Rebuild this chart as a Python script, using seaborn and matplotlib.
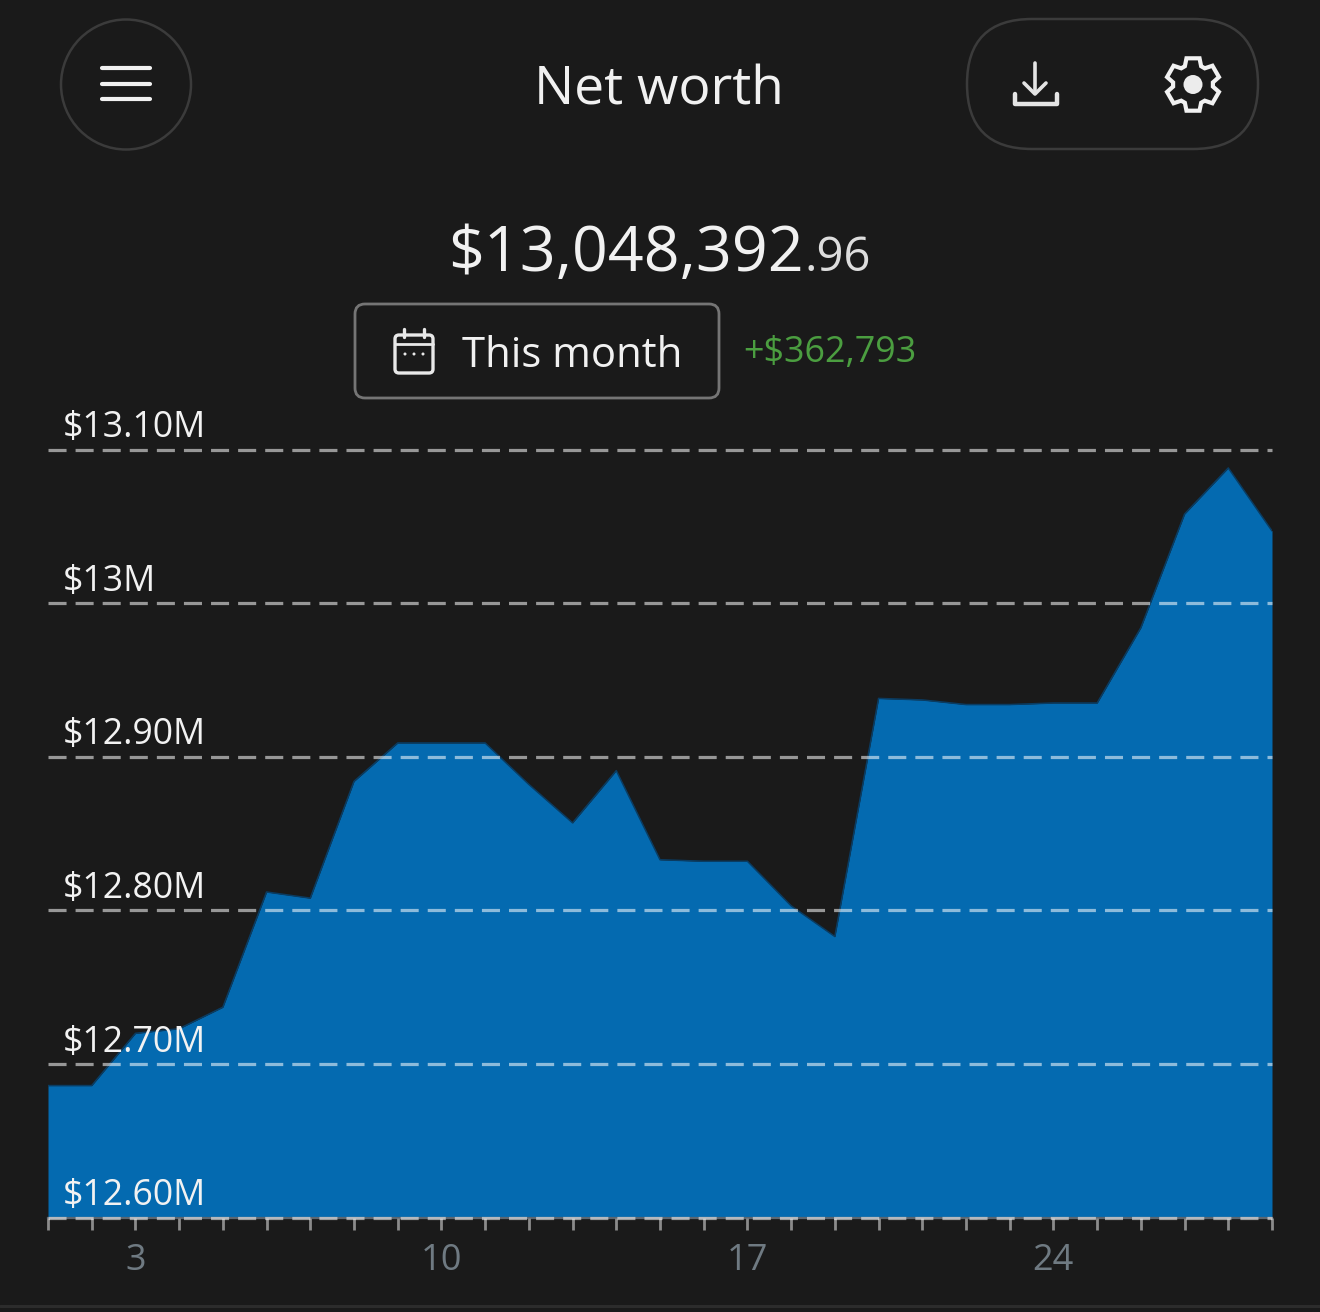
import numpy as np
import pandas as pd
import matplotlib
matplotlib.use("Agg")
import matplotlib.pyplot as plt
from matplotlib.patches import Ellipse, FancyBboxPatch, Polygon, Circle
from matplotlib.transforms import ScaledTranslation
import seaborn as sns

# Daily net worth in millions of dollars
days = list(range(1, 30))
net_worth = [12.686, 12.686, 12.720, 12.723, 12.737, 12.812, 12.808, 12.884, 12.909, 12.909,
             12.909, 12.882, 12.857, 12.891, 12.833, 12.832, 12.832, 12.803, 12.783, 12.938,
             12.937, 12.934, 12.934, 12.935, 12.935, 12.984, 13.058, 13.088, 13.047]
y_ticks = [12.6, 12.7, 12.8, 12.9, 13.0, 13.1]
y_labels = ["$12.60M", "$12.70M", "$12.80M", "$12.90M", "$13M", "$13.10M"]
x_labelled = {3: "3", 10: "10", 17: "17", 24: "24"}

title = "Net worth"
balance_whole = "$13,048,392"
balance_cents = ".96"
period = "This month"
change = "+$362,793"

BG = "#1a1a1a"
BLUE = "#046ab0"
INK = "#f1f1f1"
FONT = "Open Sans"

W, H = 1320, 1312
sns.set_theme(style="dark", rc={"axes.facecolor": BG, "figure.facecolor": BG, "font.family": FONT})
fig = plt.figure(figsize=(W / 100, H / 100), dpi=100, facecolor=BG)

# Chart area
L, R, T, B = 48, 1272, 449.5, 1217.7
ax = fig.add_axes([L / W, 1 - B / H, (R - L) / W, (B - T) / H], facecolor=BG)
frame = pd.DataFrame({"day": days, "value": net_worth})
ax.fill_between(frame["day"], frame["value"], 12.6, color=BLUE, lw=0, zorder=1)
sns.lineplot(data=frame, x="day", y="value", ax=ax, color="#0a3c62", lw=1.1, zorder=2)
ax.set(xlim=(1, 29), ylim=(12.6, 13.1), xlabel="", ylabel="")
ax.set_axisbelow(False)
for name, spine in ax.spines.items():
    spine.set_visible(name == "bottom")
ax.spines["bottom"].set_color("#5c6670")
ax.spines["bottom"].set_linewidth(1.6)

ax.set_yticks(y_ticks)
ax.set_yticklabels(y_labels)
ax.tick_params(axis="y", length=0, pad=-10.6, labelsize=25.7, labelcolor="#f2f2f2")
lift = ScaledTranslation(0, 2.4 / 72, fig.dpi_scale_trans)
for lab in ax.get_yticklabels():
    lab.set_ha("left")
    lab.set_va("bottom")
    lab.set_transform(lab.get_transform() + lift)

ax.set_xticks(days)
ax.set_xticklabels([x_labelled.get(d, "") for d in days])
ax.tick_params(axis="x", length=8.5, width=2.0, color="#8b8b8b", pad=9.5, labelsize=26,
               labelcolor="#6f7a82", bottom=True)

# Dashed reference lines sit over the area
for v in y_ticks:
    ax.axhline(v, color="white", alpha=0.55, lw=2.3, dashes=(5.65, 2.83), zorder=4, clip_on=False)
ax.grid(False)

# Interface layer in pixel units
ui = fig.add_axes([0, 0, 1, 1], facecolor="none")
ui.set_xlim(0, W)
ui.set_ylim(H, 0)
ui.axis("off")

RIM = "#3b3b3b"
ui.add_patch(Ellipse((126, 84.5), 130, 130, fill=False, ec=RIM, lw=1.8))
ui.add_patch(FancyBboxPatch((967, 19), 291, 130, boxstyle="round,pad=0,rounding_size=65",
                            fill=False, ec=RIM, lw=1.8))

for y in (68, 84, 99):
    ui.plot([102, 150], [y, y], color=INK, lw=3.0, solid_capstyle="round")

# Download icon
ui.plot([1035, 1035], [63, 93], color="#e4e4e4", lw=2.6, solid_capstyle="round")
ui.plot([1024, 1035, 1046], [83, 94, 83], color="#e4e4e4", lw=2.6,
        solid_capstyle="round", solid_joinstyle="round")
ui.plot([1014.5, 1014.5, 1056.5, 1056.5], [94, 104, 104, 94], color="#e4e4e4", lw=3.2,
        solid_capstyle="round", solid_joinstyle="round")

# Settings icon: six-tooth gear outline
gear = []
for k in range(6):
    a = np.deg2rad(k * 60 - 90)
    for da, r in ((-24, 20), (-14, 27), (14, 27), (24, 20)):
        t = a + np.deg2rad(da)
        gear.append((1193 + r * np.cos(t), 84.5 + r * np.sin(t)))
ui.add_patch(Polygon(gear, closed=True, fill=False, ec=INK, lw=3.0, joinstyle="miter"))
ui.add_patch(Circle((1193, 84.5), 9.5, color="#ececec", lw=0))

# Headings
ui.text(659, 104.5, title, color=INK, fontsize=38.4, ha="center", va="baseline")
ui.text(448, 271, balance_whole, color=INK, fontsize=45.2, ha="left", va="baseline")
ui.text(804, 271, balance_cents, color="#dddddd", fontsize=34, ha="left", va="baseline")

# Period selector
ui.add_patch(FancyBboxPatch((355, 304), 364, 94, boxstyle="round,pad=0,rounding_size=10",
                            fill=False, ec="#757575", lw=2.0))
ui.text(462, 367, period, color=INK, fontsize=30.2, ha="left", va="baseline")
ui.text(743, 362, change, color="#4b9e40", fontsize=25.8, ha="left", va="baseline")

# Calendar icon
ui.add_patch(FancyBboxPatch((395, 335), 38, 38, boxstyle="round,pad=0,rounding_size=4",
                            fill=False, ec="#e8e8e8", lw=2.4))
ui.plot([395, 433], [344, 344], color="#e8e8e8", lw=2.0)
for x in (404, 424):
    ui.plot([x, x], [329, 337], color="#e8e8e8", lw=2.4, solid_capstyle="round")
for x in (405, 414, 423):
    ui.add_patch(Circle((x, 354), 1.5, color="#e8e8e8", lw=0))

# Faint rule along the bottom edge
ui.plot([0, W], [1306, 1306], color="#2c2c2c", lw=2.2)

fig.savefig("out.png", dpi=100, facecolor=BG)
